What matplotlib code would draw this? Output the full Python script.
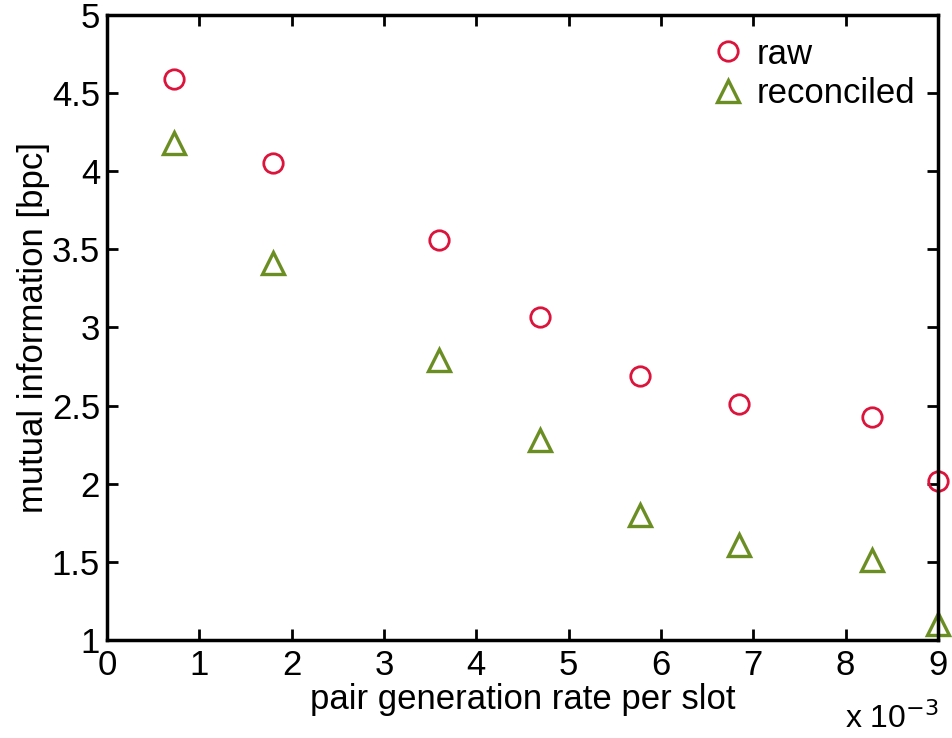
import matplotlib
matplotlib.use("Agg")
import matplotlib.pyplot as plt

plt.rcParams['font.family'] = ['Liberation Sans', 'DejaVu Sans']

# pair generation rate (x 10^-3) and mutual information [bpc]
rate = [0.73, 1.80, 3.60, 4.69, 5.77, 6.85, 8.28, 9.00]
raw = [4.59, 4.05, 3.56, 3.07, 2.69, 2.51, 2.43, 2.02]
reconciled = [4.18, 3.41, 2.79, 2.28, 1.80, 1.61, 1.51, 1.10]

xticks = [0, 1, 2, 3, 4, 5, 6, 7, 8, 9]
yticks = [1, 1.5, 2, 2.5, 3, 3.5, 4, 4.5, 5]
ytick_labels = ['1', '1.5', '2', '2.5', '3', '3.5', '4', '4.5', '5']

fig = plt.figure(figsize=(9.52, 7.38), dpi=100)
ax = fig.add_axes([0.1124, 0.1328, 0.8729, 0.8469])

ax.plot(rate, raw, linestyle='none', marker='o', markersize=14, markerfacecolor='none',
        markeredgecolor='#dc143c', markeredgewidth=2, label='raw', clip_on=False)
ax.plot(rate, reconciled, linestyle='none', marker='^', markersize=16, markerfacecolor='none',
        markeredgecolor='#6b8e23', markeredgewidth=2.4, label='reconciled', clip_on=False)

ax.set_xlim(0, 9)
ax.set_ylim(1, 5)
ax.set_xticks(xticks)
ax.set_yticks(yticks)
ax.set_yticklabels(ytick_labels)
ax.tick_params(direction='in', length=8, width=2, labelsize=25, top=True, right=True)
ax.tick_params(axis='x', pad=6.5)
ax.tick_params(axis='y', pad=5)
for s in ax.spines.values():
    s.set_linewidth(2.5)

ax.set_xlabel('pair generation rate per slot', fontsize=25)
ax.xaxis.set_label_coords(0.5, -0.069)
ax.set_ylabel('mutual information [bpc]', fontsize=25)
ax.yaxis.set_label_coords(-0.069, 0.5)

fig.text(0.8876, 0.014, r'x 10$^{-3}$', fontsize=23, va='baseline')

ax.legend(loc='upper right', frameon=False, fontsize=25, handletextpad=0.33,
          borderaxespad=0.25, labelspacing=0.2, handlelength=1.0)

fig.savefig('out.png', dpi=100)
